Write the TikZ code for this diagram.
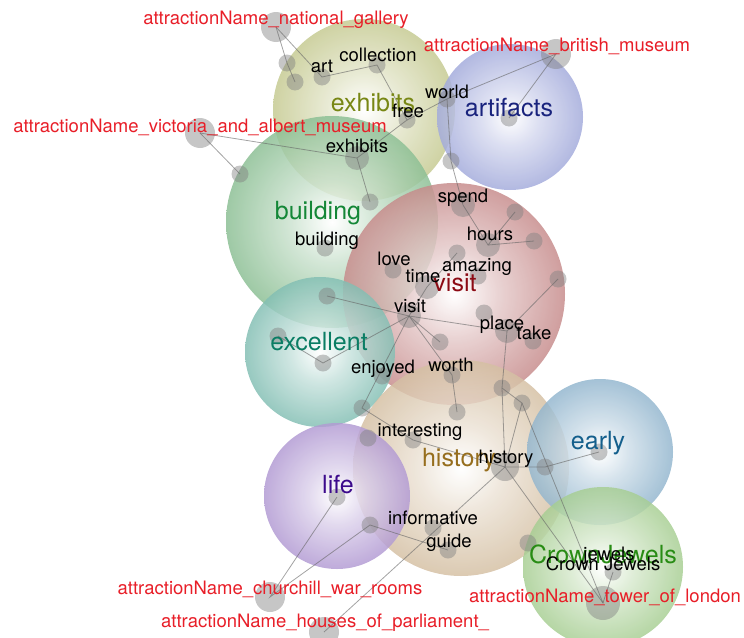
\documentclass[tikz,border=0pt]{standalone}
\usepackage{fontspec}
\setmainfont{TeX Gyre Heros}
\usepackage{xcolor}
\usepackage{tikz}
\definecolor{bcExh}{RGB}{150,158,55}
\definecolor{bcArt}{RGB}{88,102,190}
\definecolor{bcBld}{RGB}{45,138,60}
\definecolor{bcVis}{RGB}{152,45,45}
\definecolor{bcExc}{RGB}{30,138,118}
\definecolor{bcHis}{RGB}{178,140,88}
\definecolor{bcLif}{RGB}{115,72,175}
\definecolor{bcEar}{RGB}{58,122,166}
\definecolor{bcCrw}{RGB}{95,166,58}
\definecolor{lcExh}{RGB}{120,135,20}
\definecolor{lcArt}{RGB}{25,35,125}
\definecolor{lcBld}{RGB}{20,135,55}
\definecolor{lcVis}{RGB}{140,10,20}
\definecolor{lcExc}{RGB}{10,125,100}
\definecolor{lcHis}{RGB}{150,110,30}
\definecolor{lcLif}{RGB}{60,10,140}
\definecolor{lcEar}{RGB}{20,95,140}
\definecolor{lcCrw}{RGB}{40,140,20}
\definecolor{clrAttr}{RGB}{232,30,40}
\colorlet{bubclr}{gray}
\pgfdeclareradialshading[bubclr]{bubble}{\pgfpointorigin}
  {color(0bp)=(white); color(10bp)=(bubclr!25); color(35bp)=(bubclr!75);
   color(50bp)=(bubclr)}
\tikzset{
  bubble/.style={circle,inner sep=0pt,draw=none,fill opacity=0.84,
    /utils/exec={\colorlet{bubclr}{#1}},shading=bubble},
  dot/.style={circle,inner sep=0pt,minimum size=17pt,fill=gray,
    fill opacity=0.45},
  middot/.style={dot,minimum size=24pt},
  bigdot/.style={dot,minimum size=30pt},
  link/.style={draw=gray!80!black,draw opacity=0.6,line width=0.8pt},
  term/.style={inner sep=0pt,text=black,text height=13pt,text depth=4pt,
    font=\fontsize{18.5}{20}\selectfont},
  attr/.style={term,text=clrAttr},
  topic/.style={inner sep=0pt,text height=18pt,text depth=5pt,
    font=\fontsize{25}{27}\selectfont}
}
\begin{document}
\begin{tikzpicture}[x=1pt,y=-1pt]
  \useasboundingbox (0,0) rectangle (744,637);

  % topic bubbles
  \node[bubble=bcExh,minimum size=182pt] (b-exhibits) at (364,110) {};
  \node[bubble=bcArt,minimum size=146pt] (b-artifacts) at (510,117) {};
  \node[bubble=bcBld,minimum size=212pt] (b-building) at (332,222) {};
  \node[bubble=bcVis,minimum size=222pt] (b-visit) at (454,294) {};
  \node[bubble=bcExc,minimum size=150pt] (b-excellent) at (320,352) {};
  \node[bubble=bcHis,minimum size=216pt] (b-history) at (461,468) {};
  \node[bubble=bcLif,minimum size=146pt] (b-life) at (337,496) {};
  \node[bubble=bcEar,minimum size=146pt] (b-early) at (600,452) {};
  \node[bubble=bcCrw,minimum size=160pt] (b-crown) at (603,567) {};

  % dots
  \node[bigdot] (d-ng) at (276,27) {};
  \node[bigdot] (d-bm) at (556,54) {};
  \node[bigdot] (d-vam) at (200,133) {};
  \node[bigdot] (d-cwr) at (270,597) {};
  \node[bigdot] (d-hop) at (324,632) {};
  \node[bigdot,minimum size=34pt] (d-tol) at (603,603) {};
  \node[dot] (d-g1) at (287,63) {};
  \node[dot] (d-g2) at (295,82) {};
  \node[dot] (d-art) at (322,77) {};
  \node[dot] (d-coll) at (377,65) {};
  \node[dot] (d-free) at (407,120) {};
  \node[dot] (d-world) at (447,99) {};
  \node[dot] (d-artif) at (509,118) {};
  \node[dot] (d-w2) at (451,161) {};
  \node[dot] (d-v2) at (240,174) {};
  \node[middot] (d-exh) at (357,158) {};
  \node[dot] (d-b2) at (370,202) {};
  \node[dot] (d-bld) at (325,248) {};
  \node[middot] (d-spend) at (463,205) {};
  \node[dot] (d-s2) at (515,212) {};
  \node[middot] (d-hours) at (488,245) {};
  \node[dot] (d-h2) at (534,241) {};
  \node[dot] (d-a2) at (457,253) {};
  \node[dot] (d-amaz) at (478,276) {};
  \node[dot] (d-love) at (393,270) {};
  \node[middot] (d-time) at (427,287) {};
  \node[middot] (d-visit) at (409,316) {};
  \node[dot] (d-p2) at (558,279) {};
  \node[dot] (d-p3) at (484,313) {};
  \node[middot] (d-place) at (507,331) {};
  \node[dot] (d-take) at (533,341) {};
  \node[dot] (d-v3) at (440,342) {};
  \node[dot] (d-e1) at (278,336) {};
  \node[dot] (d-e2) at (323,363) {};
  \node[dot] (d-e3) at (327,296) {};
  \node[dot] (d-enj) at (382,376) {};
  \node[dot] (d-worth) at (452,375) {};
  \node[dot] (d-i0) at (362,408) {};
  \node[dot] (d-int1) at (368,438) {};
  \node[dot] (d-int2) at (413,440) {};
  \node[dot] (d-w3) at (457,412) {};
  \node[dot] (d-h3) at (502,388) {};
  \node[dot] (d-h4) at (522,403) {};
  \node[middot,minimum size=28pt] (d-hist) at (505,467) {};
  \node[dot] (d-h5) at (545,467) {};
  \node[dot] (d-early) at (599,452) {};
  \node[dot] (d-life) at (337,497) {};
  \node[dot] (d-l2) at (370,525) {};
  \node[dot] (d-inf) at (433,528) {};
  \node[dot] (d-guide) at (448,550) {};
  \node[dot] (d-c2) at (528,543) {};
  \node[dot] (d-jew) at (613,572) {};

  % links
  \draw[link] (d-ng.center) -- (d-g1.center) -- (d-g2.center);
  \draw[link] (d-ng.center) -- (d-art.center) -- (d-coll.center)
    -- (d-free.center) -- (d-exh.center) -- (d-b2.center);
  \draw[link] (d-free.center) -- (d-world.center) -- (d-bm.center)
    -- (d-artif.center);
  \draw[link] (d-world.center) -- (d-w2.center) -- (d-spend.center)
    -- (d-hours.center) -- (d-s2.center);
  \draw[link] (d-hours.center) -- (d-h2.center);
  \draw[link] (d-vam.center) -- (d-v2.center);
  \draw[link] (d-vam.center) -- (d-exh.center);
  \draw[link] (d-a2.center) -- (d-time.center) -- (d-visit.center);
  \draw[link] (d-visit.center) -- (d-place.center) -- (d-p2.center);
  \draw[link] (d-visit.center) -- (d-v3.center);
  \draw[link] (d-visit.center) -- (d-worth.center) -- (d-w3.center);
  \draw[link] (d-visit.center) -- (d-e2.center) -- (d-e1.center);
  \draw[link] (d-visit.center) -- (d-e3.center);
  \draw[link] (d-visit.center) -- (d-i0.center) -- (d-int2.center)
    -- (d-hist.center);
  \draw[link] (d-place.center) -- (d-h3.center) -- (d-hist.center);
  \draw[link] (d-h3.center) -- (d-h4.center) -- (d-hist.center);
  \draw[link] (d-hist.center) -- (d-h5.center) -- (d-early.center);
  \draw[link] (d-hist.center) -- (d-tol.center) -- (d-jew.center);
  \draw[link] (d-h4.center) -- (d-tol.center);
  \draw[link] (d-hist.center) -- (d-hop.center);
  \draw[link] (d-life.center) -- (d-cwr.center) -- (d-l2.center)
    -- (d-guide.center);

  % topic labels
  \node[topic,text=lcExh] (l-exhibits) at (373,105) {exhibits};
  \node[topic,text=lcArt] (l-artifacts) at (509,110) {artifacts};
  \node[topic,text=lcBld] (l-building) at (318,213) {building};
  \node[topic,text=lcVis] (l-visit) at (455,285) {visit};
  \node[topic,text=lcExc] (l-excellent) at (319,344) {excellent};
  \node[topic,text=lcHis] (l-history) at (459,460) {history};
  \node[topic,text=lcLif] (l-life) at (338,487) {life};
  \node[topic,text=lcEar] (l-early) at (598,443) {early};
  \node[topic,text=lcCrw] (l-crown) at (603,557) {CrownJewels};

  % terms
  \node[term] (t-art) at (322,68) {art};
  \node[term] (t-coll) at (378,57) {collection};
  \node[term] (t-free) at (408,113) {free};
  \node[term] (t-world) at (447,94) {world};
  \node[term] (t-exh) at (357,148) {exhibits};
  \node[term] (t-bld) at (327,241) {building};
  \node[term] (t-spend) at (463,198) {spend};
  \node[term] (t-hours) at (490,236) {hours};
  \node[term] (t-love) at (394,261) {love};
  \node[term] (t-time) at (423,278) {time};
  \node[term] (t-amaz) at (477,267) {amazing};
  \node[term] (t-visit) at (410,308) {visit};
  \node[term] (t-place) at (502,325) {place};
  \node[term] (t-take) at (534,335) {take};
  \node[term] (t-worth) at (451,367) {worth};
  \node[term] (t-enj) at (383,369) {enjoyed};
  \node[term] (t-int) at (420,432) {interesting};
  \node[term] (t-hist) at (506,459) {history};
  \node[term] (t-inf) at (433,520) {informative};
  \node[term] (t-guide) at (449,543) {guide};
  \node[term] (t-jew) at (609,556) {jewels};
  \node[term] (t-crown) at (603,566) {Crown Jewels};

  % attractions
  \node[attr] (a-ng) at (276,20) {attractionName\_national\_gallery};
  \node[attr] (a-bm) at (557,47) {attractionName\_british\_museum};
  \node[attr] (a-vam) at (200,128)
    {attractionName\_victoria\_and\_albert\_museum};
  \node[attr] (a-cwr) at (270,590) {attractionName\_churchill\_war\_rooms};
  \node[attr] (a-hop) at (325,623)
    {attractionName\_houses\_of\_parliament\_};
  \node[attr] (a-tol) at (605,598) {attractionName\_tower\_of\_london};
\end{tikzpicture}
\end{document}
